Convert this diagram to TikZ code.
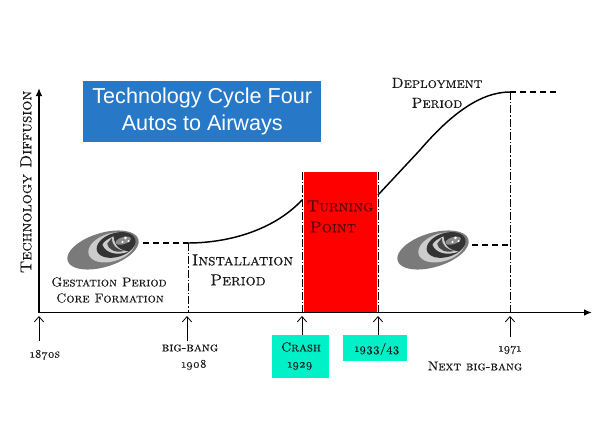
\documentclass[tikz,border=0pt]{standalone}
\usepackage{fontspec}
\setmainfont{Latin Modern Roman}[Numbers=OldStyle,SmallCapsFont={Latin Modern Roman Caps},SmallCapsFeatures={Numbers=OldStyle,FakeBold=0.25}]
\newfontfamily\titlefont{Liberation Sans}
\usetikzlibrary{arrows.meta}
\definecolor{bluebox}{HTML}{2878C8}
\definecolor{tealbox}{HTML}{00F0C8}
\definecolor{turnred}{HTML}{FF0000}
\definecolor{turntext}{HTML}{5A0808}
\tikzset{
 x=0.75pt,y=-0.75pt,
 biglab/.style={font=\scshape\fontsize{12}{13}\selectfont,inner sep=0pt,text=black!90,align=center},
 lab/.style={font=\scshape\fontsize{11}{12}\selectfont,inner sep=0pt,text=black!90,align=center},
 midlab/.style={font=\scshape\fontsize{9.7}{11}\selectfont,inner sep=0pt,text=black!90},
 smalllab/.style={font=\scshape\fontsize{8.7}{10}\selectfont,inner sep=0pt,text=black!90},
 axisline/.style={line width=1.1pt,-{Latex[length=6pt,width=5pt]}},
 curveline/.style={line width=1.1pt},
 dashline/.style={line width=1.1pt,dash pattern=on 4.5pt off 3pt},
 dropline/.style={line width=0.5pt,dash pattern=on 6pt off 1.5pt on 1pt off 1.5pt},
 uparrow/.style={line width=0.6pt,-{Straight Barb[length=4pt,width=7pt]}},
 logo/.pic={
  \begin{scope}[rotate=17]
  \fill[black!52] (0,0) ellipse (37 and 17);
  \fill[black!20] (9,0) ellipse (24 and 14);
  \fill[black!80] (14,-1) ellipse (20 and 12);
  \fill[black!20] (1,-5) .. controls (2,4) and (12,10) .. (24,9) .. controls (16,5) and (12,0) .. (14,-10) .. controls (8,-9) and (3,-8) .. cycle;
  \fill[black!72] (6,-5) .. controls (5,2) and (12,7) .. (20,7) .. controls (13,3) and (10,-1) .. (12,-9) -- cycle;
  \fill[black!45] (22,-3) ellipse (8 and 3.5);
  \fill[white] (25,-5) circle (1.5) (21,-2) circle (1.2) (27,-1) circle (1.2);
  \end{scope}
 }
}
\begin{document}
\begin{tikzpicture}
\useasboundingbox (0,0) rectangle (613,435);
\coordinate (o) at (39,312.5);
\coordinate (ytip) at (39,88);
\coordinate (xtip) at (592,312.5);
\coordinate (gstart) at (143,243);
\coordinate (gend) at (188,243);
\coordinate (gfoot) at (188,312);
\coordinate (c1end) at (302,200);
\coordinate (tltop) at (302,172);
\coordinate (tlfoot) at (302,312);
\coordinate (trtop) at (378,172);
\coordinate (trfoot) at (378,312);
\coordinate (c2start) at (378,195);
\coordinate (c2mid) at (420,150);
\coordinate (peak) at (510,92);
\coordinate (peakfoot) at (510,312);
\coordinate (peakend) at (556,92);
\coordinate (lstart) at (472,245);
\coordinate (lend) at (510,245);
\coordinate (a0a) at (39,341); \coordinate (a0b) at (39,316);
\coordinate (a1a) at (187,341); \coordinate (a1b) at (187,316);
\coordinate (a4a) at (510,337); \coordinate (a4b) at (510,316);

\node[fill=turnred,minimum width=73*0.75pt,minimum height=140*0.75pt,inner sep=0pt,anchor=north west] (red) at (304,172) {};
\draw[dropline] (tltop) -- (tlfoot);
\draw[dropline] (trtop) -- (trfoot);
\draw[dropline] (gend) -- (gfoot);
\draw[dropline] (peak) -- (peakfoot);

\draw[axisline] (o) -- (ytip);
\draw[axisline] (o) -- (xtip);

\draw[curveline] (gend) .. controls (225,243) and (272,232) .. (c1end);
\draw[curveline] (c2start) -- (c2mid) .. controls (450,115) and (480,92) .. (peak);
\draw[dashline] (gstart) -- (gend);
\draw[dashline] (peak) -- (peakend);
\draw[dashline] (lstart) -- (lend);

\pic at (103,250) {logo};
\pic at (433,250) {logo};

\node[fill=bluebox,minimum width=238*0.75pt,minimum height=61*0.75pt,inner sep=0pt,anchor=north west,text=white,align=center,font=\titlefont\fontsize{16.2}{20.25}\selectfont] (title) at (83,81) {Technology Cycle Four\\Autos to Airways};
\node[fill=tealbox,minimum width=57*0.75pt,minimum height=43*0.75pt,inner sep=0pt,anchor=north west] (crashbox) at (272,335) {};
\node[fill=tealbox,minimum width=64*0.75pt,minimum height=26*0.75pt,inner sep=0pt,anchor=north west] (ccbox) at (343,335) {};

\draw[uparrow] (a0a) -- (a0b);
\draw[uparrow] (a1a) -- (a1b);
\draw[uparrow] (crashbox.north -| tlfoot) -- ++(0,-19);
\draw[uparrow] (ccbox.north -| trfoot) -- ++(0,-19);
\draw[uparrow] (a4a) -- (a4b);

\node[biglab,rotate=90] (ylabel) at (26,182) {Technology Diffusion};
\node[midlab] (gest) at (109,282) {Gestation Period};
\node[midlab] (core) at (110,298) {Core Formation};
\node[biglab] (inst) at (242.5,260) {Installation};
\node[biglab] (iper) at (238,280) {Period};
\node[biglab,text=turntext] (turn) at (340,206) {Turning};
\node[biglab,text=turntext] (tpoint) at (333,227) {Point};
\node[lab] (depl) at (437,83) {Deployment};
\node[lab] (dper) at (437,103) {Period};
\node[smalllab] (n1870) at (45,355) {1870s};
\node[midlab] (bang) at (190,348) {big-bang};
\node[smalllab] (n1908) at (194,365) {1908};
\node[midlab] (crash) at (301,347) {Crash};
\node[smalllab] (n1929) at (300,366) {1929};
\node[smalllab] (n1933) at (377,349) {1933/43};
\node[smalllab] (n1971) at (510,350) {1971};
\node[midlab] (next) at (475,366) {Next big-bang};
\end{tikzpicture}
\end{document}
